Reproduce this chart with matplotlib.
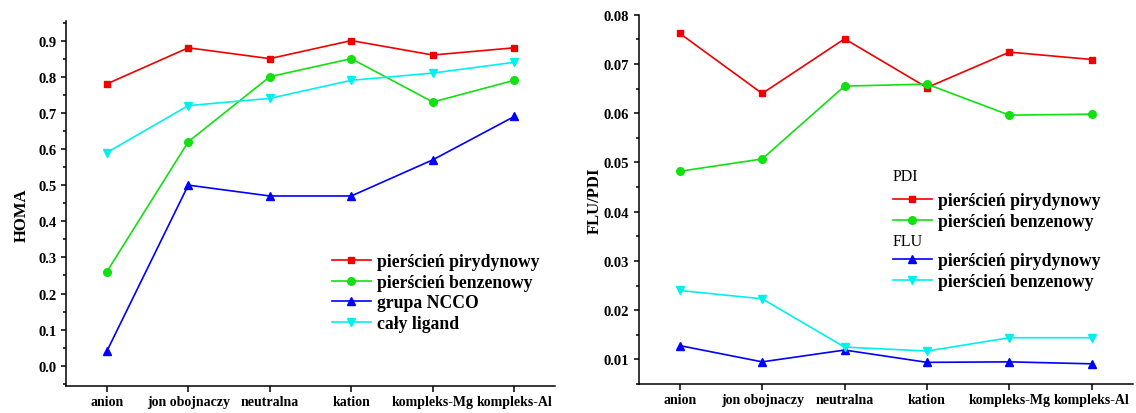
import matplotlib
matplotlib.use('Agg')
import matplotlib.pyplot as plt
from matplotlib.ticker import MultipleLocator

plt.rcParams['font.family'] = ['Liberation Serif', 'DejaVu Serif']
plt.rcParams['font.weight'] = 'bold'

# dane
categories = ['anion', 'jon obojnaczy', 'neutralna', 'kation', 'kompleks-Mg', 'kompleks-Al']

homa_pir = [0.78, 0.88, 0.85, 0.90, 0.86, 0.88]
homa_benz = [0.26, 0.62, 0.80, 0.85, 0.73, 0.79]
homa_ncco = [0.04, 0.50, 0.47, 0.47, 0.57, 0.69]
homa_ligand = [0.59, 0.72, 0.74, 0.79, 0.81, 0.84]

pdi_pir = [0.0762, 0.0640, 0.0751, 0.0652, 0.0724, 0.0709]
pdi_benz = [0.0482, 0.0507, 0.0655, 0.0659, 0.0596, 0.0598]
flu_pir = [0.0128, 0.0095, 0.0119, 0.0094, 0.0095, 0.0091]
flu_benz = [0.0240, 0.0223, 0.0125, 0.0117, 0.0144, 0.0144]

colors = {'red': '#f00000', 'green': '#11e011', 'blue': '#0000ff', 'cyan': '#00f0f0'}
x = list(range(len(categories)))

fig = plt.figure(figsize=(11.36, 4.14), dpi=100)
ax1 = fig.add_axes([0.0581, 0.0659, 0.4305, 0.8817])
ax2 = fig.add_axes([0.5621, 0.0700, 0.4353, 0.8921])

lw = 1.2
ax1.plot(x, homa_pir, color=colors['red'], marker='s', ms=5, lw=lw, label='pierścień pirydynowy')
ax1.plot(x, homa_benz, color=colors['green'], marker='o', ms=5.5, lw=lw, label='pierścień benzenowy')
ax1.plot(x, homa_ncco, color=colors['blue'], marker='^', ms=6, lw=lw, label='grupa NCCO')
ax1.plot(x, homa_ligand, color=colors['cyan'], marker='v', ms=6, lw=lw, label='cały ligand')

l1, = ax2.plot(x, pdi_pir, color=colors['red'], marker='s', ms=5, lw=lw, label='pierścień pirydynowy')
l2, = ax2.plot(x, pdi_benz, color=colors['green'], marker='o', ms=5.5, lw=lw, label='pierścień benzenowy')
l3, = ax2.plot(x, flu_pir, color=colors['blue'], marker='^', ms=6, lw=lw, label='pierścień pirydynowy')
l4, = ax2.plot(x, flu_benz, color=colors['cyan'], marker='v', ms=6, lw=lw, label='pierścień benzenowy')

ax1.set_ylim(-0.055, 0.955)
ax1.yaxis.set_major_locator(MultipleLocator(0.1))
ax1.yaxis.set_minor_locator(MultipleLocator(0.05))
ax1.set_ylabel('HOMA', fontsize=12, fontweight='bold')
ax1.yaxis.set_label_coords(-0.074, 0.47)

ax2.set_ylim(0.005, 0.08)
ax2.yaxis.set_minor_locator(MultipleLocator(0.005))
ax2.set_yticks([0.01, 0.02, 0.03, 0.04, 0.05, 0.06, 0.07, 0.08])
ax2.set_ylabel('FLU/PDI', fontsize=12, fontweight='bold')
ax2.yaxis.set_label_coords(-0.072, 0.5)

for ax in (ax1, ax2):
    ax.set_xlim(-0.5, 5.5)
    ax.set_xticks(x)
    ax.set_xticklabels(categories, fontsize=10, fontweight='bold')
    ax.spines['top'].set_visible(False)
    ax.spines['right'].set_visible(False)
    ax.spines['left'].set_linewidth(1.1)
    ax.spines['bottom'].set_linewidth(1.1)
    ax.tick_params(axis='y', which='major', direction='out', length=3.6, width=1.1, pad=3.3, labelsize=10.5)
    ax.tick_params(axis='y', which='minor', direction='out', length=2.2, width=1.1)
    ax.tick_params(axis='x', which='major', direction='out', length=4.3, width=1.1, pad=2.5)
    for t in ax.get_yticklabels():
        t.set_fontweight('bold')

leg_kw = dict(frameon=False, handlelength=2.2, handletextpad=0.37,
              labelspacing=0.2, borderpad=0, borderaxespad=0, prop={'weight': 'bold', 'size': 12.7})

ax1.legend(loc='center left', bbox_to_anchor=(0.5434, 0.255), **leg_kw)

leg_pdi = ax2.legend([l1, l2], [l1.get_label(), l2.get_label()], loc='center left',
                     bbox_to_anchor=(0.514, 0.468), **leg_kw)
ax2.add_artist(leg_pdi)
ax2.legend([l3, l4], [l3.get_label(), l4.get_label()], loc='center left',
           bbox_to_anchor=(0.514, 0.306), **leg_kw)
ax2.text(0.5146, 0.564, 'PDI', transform=ax2.transAxes, fontsize=11.5, fontweight='normal', va='center')
ax2.text(0.5146, 0.386, 'FLU', transform=ax2.transAxes, fontsize=11.5, fontweight='normal', va='center')

fig.savefig('out.png', dpi=100)
